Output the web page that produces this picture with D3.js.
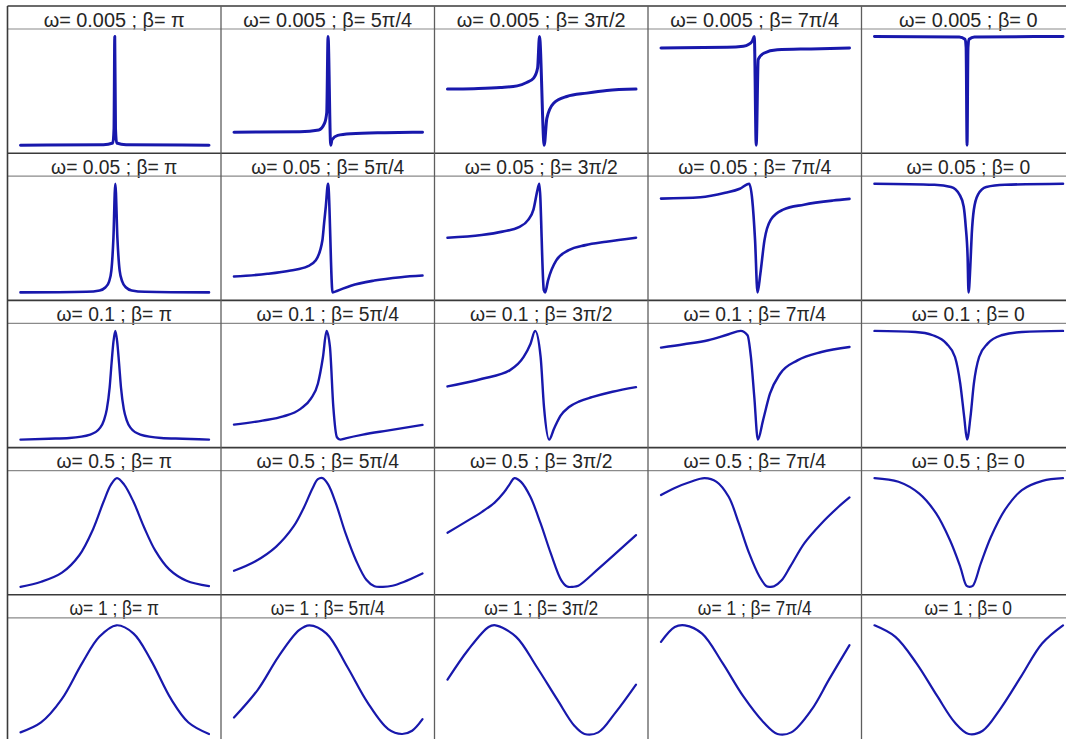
<!DOCTYPE html>
<html><head><meta charset="utf-8">
<script src="https://cdn.jsdelivr.net/npm/d3@7"></script>
<style>body{margin:0;background:#fff} svg{display:block}</style>
</head><body>
<svg id="c" width="1066" height="739"></svg>
<script>
// Row / column labels
const omegas = ["0.005","0.05","0.1","0.5","1"];
const betas  = ["π","5π/4","3π/2","7π/4","0"];

// Curves: [x fraction, normalised intensity]
// ω = 0.005
const w0005_b4 = [[0,0],[0.44,0.005],[0.49,0.02],[0.496,0.15],[0.5,1],[0.504,0.15],[0.51,0.02],[0.56,0.005],[1,0]];
const w0005_b5 = [[0,0.12],[0.35,0.123],[0.45,0.14],[0.48,0.2],[0.492,0.3],[0.499,1],[0.513,0],[0.52,0.05],[0.55,0.09],[0.62,0.105],[0.8,0.115],[1,0.12]];
const w0005_b6 = [[0,0.516],[0.14,0.52],[0.28,0.53],[0.37,0.546],[0.42,0.577],[0.457,0.617],[0.478,0.71],[0.488,1],[0.513,0],[0.527,0.247],[0.563,0.386],[0.633,0.448],[0.739,0.479],[0.845,0.503],[1,0.516]];
const w0005_b7 = [[0,0.895],[0.35,0.9],[0.437,0.91],[0.464,0.926],[0.485,0.96],[0.495,1],[0.505,0],[0.516,0.79],[0.545,0.846],[0.617,0.877],[0.796,0.886],[1,0.895]];
const w0005_b0 = [[0,1],[0.45,0.995],[0.48,0.975],[0.486,0.9],[0.491,0],[0.496,0.9],[0.502,0.975],[0.53,0.995],[1,1]];
// ω = 0.05
const w005_b4 = [[0,0],[0.35,0.006],[0.42,0.018],[0.45,0.045],[0.47,0.1],[0.482,0.2],[0.493,0.5],[0.503,1],[0.514,0.5],[0.526,0.2],[0.54,0.1],[0.56,0.045],[0.59,0.018],[0.66,0.006],[1,0]];
const w005_b5 = [[0,0.146],[0.177,0.171],[0.301,0.202],[0.39,0.239],[0.434,0.295],[0.469,0.48],[0.478,0.637],[0.487,0.79],[0.499,1],[0.523,0],[0.549,0.016],[0.62,0.062],[0.744,0.109],[0.885,0.14],[1,0.155]];
const w005_b6 = [[0,0.503],[0.181,0.528],[0.291,0.559],[0.379,0.6],[0.428,0.667],[0.456,0.761],[0.478,0.947],[0.487,1],[0.511,0.02],[0.518,0],[0.533,0.109],[0.577,0.295],[0.643,0.388],[0.732,0.435],[0.842,0.466],[1,0.503]];
const w005_b7 = [[0,0.863],[0.209,0.875],[0.341,0.916],[0.418,0.953],[0.468,1],[0.484,0.854],[0.499,0.481],[0.512,0],[0.527,0.171],[0.549,0.481],[0.582,0.667],[0.648,0.761],[0.758,0.807],[0.912,0.845],[1,0.86]];
const w005_b0 = [[0,1],[0.318,0.99],[0.406,0.97],[0.451,0.9],[0.473,0.79],[0.484,0.606],[0.494,0.326],[0.499,0],[0.508,0.23],[0.516,0.54],[0.527,0.76],[0.549,0.9],[0.593,0.97],[0.692,0.99],[1,1]];
// ω = 0.1
const w01_b4 = [[0,0],[0.15,0.008],[0.26,0.015],[0.37,0.046],[0.423,0.11],[0.443,0.18],[0.458,0.28],[0.473,0.48],[0.483,0.7],[0.493,0.9],[0.503,1],[0.513,0.9],[0.523,0.7],[0.533,0.48],[0.548,0.28],[0.563,0.18],[0.583,0.11],[0.636,0.046],[0.746,0.015],[0.86,0.008],[1,0]];
const w01_b5 = [[0,0.138],[0.151,0.175],[0.261,0.213],[0.353,0.283],[0.408,0.376],[0.445,0.514],[0.472,0.76],[0.491,1],[0.509,0.852],[0.527,0.298],[0.546,0.022],[0.564,0],[0.592,0.012],[0.684,0.046],[0.813,0.083],[1,0.135]];
const w01_b6 = [[0,0.489],[0.184,0.56],[0.33,0.637],[0.404,0.76],[0.44,0.88],[0.465,1],[0.494,0.76],[0.512,0.298],[0.539,0],[0.565,0.1],[0.6,0.22],[0.645,0.3],[0.7,0.352],[0.766,0.39],[0.875,0.44],[1,0.483]];
const w01_b7 = [[0,0.846],[0.122,0.877],[0.25,0.914],[0.359,0.969],[0.423,1],[0.459,0.96],[0.477,0.76],[0.495,0.391],[0.514,0],[0.541,0.175],[0.578,0.422],[0.632,0.606],[0.724,0.729],[0.851,0.806],[1,0.852]];
const w01_b0 = [[0,1],[0.218,0.99],[0.309,0.96],[0.382,0.883],[0.427,0.76],[0.455,0.514],[0.476,0.206],[0.491,0],[0.509,0.206],[0.527,0.514],[0.555,0.76],[0.6,0.883],[0.673,0.96],[0.782,0.99],[1,1]];
// ω = 0.5
const w05_b4 = [[0,0],[0.11,0.046],[0.22,0.13],[0.312,0.29],[0.385,0.53],[0.44,0.78],[0.48,0.94],[0.512,1],[0.55,0.94],[0.6,0.78],[0.655,0.55],[0.716,0.33],[0.789,0.16],[0.881,0.055],[1,0.006]];
const w05_b5 = [[0,0.147],[0.114,0.235],[0.224,0.37],[0.316,0.555],[0.371,0.73],[0.415,0.9],[0.445,0.99],[0.47,1],[0.5,0.94],[0.54,0.77],[0.592,0.491],[0.647,0.245],[0.702,0.065],[0.745,0.005],[0.79,0],[0.84,0.01],[0.9,0.045],[1,0.123]];
const w05_b6 = [[0,0.497],[0.092,0.593],[0.183,0.69],[0.25,0.775],[0.3,0.87],[0.332,0.95],[0.355,1],[0.39,0.965],[0.439,0.83],[0.494,0.583],[0.548,0.307],[0.603,0.062],[0.635,0.002],[0.665,0],[0.694,0.01],[0.803,0.17],[0.913,0.34],[1,0.476]];
const w05_b7 = [[0,0.844],[0.067,0.905],[0.158,0.966],[0.231,1],[0.295,0.966],[0.359,0.828],[0.413,0.583],[0.468,0.307],[0.523,0.092],[0.56,0.005],[0.58,0],[0.6,0.005],[0.64,0.06],[0.687,0.19],[0.76,0.4],[0.851,0.583],[0.942,0.736],[1,0.822]];
const w05_b0 = [[0,1],[0.127,0.966],[0.236,0.859],[0.327,0.675],[0.4,0.43],[0.455,0.184],[0.488,0.01],[0.505,0],[0.522,0.01],[0.564,0.215],[0.618,0.46],[0.691,0.706],[0.782,0.89],[0.891,0.975],[1,1]];
// ω = 1
const w1_b4 = [[0,0.015],[0.109,0.106],[0.218,0.318],[0.327,0.652],[0.418,0.894],[0.509,1],[0.6,0.924],[0.691,0.682],[0.8,0.318],[0.891,0.106],[1,0]];
const w1_b5 = [[0,0.152],[0.127,0.409],[0.236,0.712],[0.345,0.955],[0.4,1],[0.491,0.924],[0.6,0.621],[0.709,0.288],[0.818,0.045],[0.891,0],[0.945,0.03],[1,0.136]];
const w1_b6 = [[0,0.5],[0.109,0.773],[0.218,0.985],[0.255,1],[0.364,0.894],[0.472,0.621],[0.582,0.318],[0.673,0.076],[0.727,0],[0.8,0.015],[0.891,0.197],[1,0.455]];
const w1_b7 = [[0,0.848],[0.073,0.985],[0.127,1],[0.218,0.924],[0.327,0.652],[0.436,0.348],[0.545,0.106],[0.618,0],[0.691,0.015],[0.8,0.227],[0.891,0.5],[1,0.818]];
const w1_b0 = [[0,1],[0.111,0.894],[0.222,0.652],[0.333,0.348],[0.426,0.106],[0.5,0],[0.574,0.03],[0.666,0.227],[0.778,0.53],[0.889,0.833],[1,1]];

const grid = [
  [w0005_b4, w0005_b5, w0005_b6, w0005_b7, w0005_b0],
  [w005_b4,  w005_b5,  w005_b6,  w005_b7,  w005_b0],
  [w01_b4,   w01_b5,   w01_b6,   w01_b7,   w01_b0],
  [w05_b4,   w05_b5,   w05_b6,   w05_b7,   w05_b0],
  [w1_b4,    w1_b5,    w1_b6,    w1_b7,    w1_b0]
];

const svg = d3.select("#c");
const colBand = d3.scaleBand().domain(d3.range(5)).range([7.5, 1075]);
const rowBand = d3.scaleBand().domain(d3.range(5)).range([6, 742]);
const bw = colBand.bandwidth(), bh = rowBand.bandwidth();
const titleH = 23;

const x = d3.scaleLinear().domain([0,1]).range([13, bw - 12]);
const y = d3.scaleLinear().domain([0,1]).range([bh - 8, titleH + 7.5]);
const sharpLine  = d3.line().x(d => x(d[0])).y(d => y(d[1])).curve(d3.curveMonotoneX);
const smoothLine = d3.line().x(d => x(d[0])).y(d => y(d[1])).curve(d3.curveCatmullRom.alpha(0.5));

const cells = [];
omegas.forEach((w, r) => betas.forEach((b, c) => cells.push({r, c, w, b, data: grid[r][c]})));

const g = svg.selectAll("g.cell").data(cells).join("g")
  .attr("class","cell")
  .attr("transform", d => `translate(${colBand(d.c)},${rowBand(d.r)})`);

const widths = [3, 2.6, 2.4, 2.2, 2.2];
g.append("path")
  .attr("d", d => (d.r < 3 ? sharpLine : smoothLine)(d.data))
  .attr("fill","none")
  .attr("stroke","#1818ac")
  .attr("stroke-width", d => widths[d.r])
  .attr("stroke-linejoin","round")
  .attr("stroke-linecap","round");

const textScale = [1.03, 1, 1, 1, 0.9];
g.append("text")
  .attr("transform", d => `translate(${bw/2},20.6) scale(${textScale[d.r]},1)`)
  .attr("text-anchor","middle")
  .attr("font-family","'Liberation Sans', Arial, sans-serif")
  .attr("font-size", 19.3)
  .attr("fill","#262626")
  .text(d => `ω= ${d.w} ; β= ${d.b}`);

// grid lines
const lines = svg.append("g");
d3.range(5).forEach(r => {
  lines.append("line").attr("x1",7.5).attr("x2",1075).attr("y1",rowBand(r)).attr("y2",rowBand(r))
    .attr("stroke","#3a3a3a").attr("stroke-width",1.6);
  lines.append("line").attr("x1",7.5).attr("x2",1075).attr("y1",rowBand(r)+titleH).attr("y2",rowBand(r)+titleH)
    .attr("stroke","#8a8a8a").attr("stroke-width",1.2);
});
d3.range(5).forEach(c => {
  lines.append("line").attr("x1",colBand(c)).attr("x2",colBand(c)).attr("y1",6).attr("y2",742)
    .attr("stroke", c === 0 ? "#3a3a3a" : "#5e5e5e").attr("stroke-width", c === 0 ? 1.6 : 1.3);
});
</script>
</body></html>
